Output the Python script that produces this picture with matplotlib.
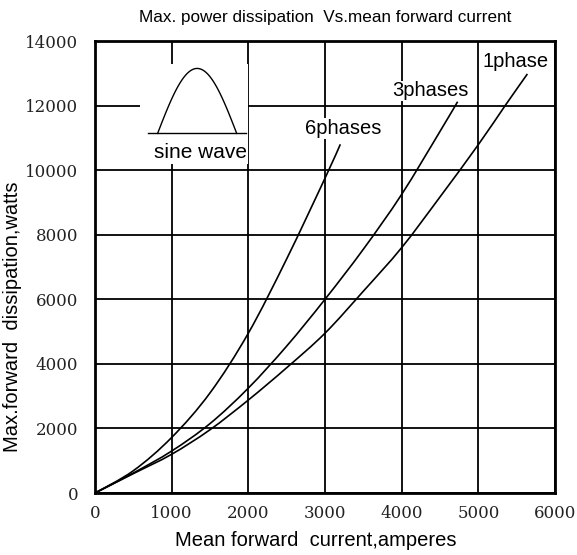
import matplotlib
matplotlib.use("Agg")
import matplotlib.pyplot as plt
import numpy as np
from matplotlib.patches import Rectangle, PathPatch
from matplotlib.path import Path

# ---- data ----
x_6ph = [0, 500, 1000, 1500, 2000, 2500, 3000, 3200]
y_6ph = [0, 690, 1720, 3100, 4950, 7250, 9750, 10800]

x_3ph = [0, 500, 1000, 1500, 2000, 2500, 3000, 3500, 4000, 4500, 4730]
y_3ph = [0, 620, 1300, 2150, 3250, 4550, 6000, 7550, 9250, 11200, 12120]

x_1ph = [0, 500, 1000, 1500, 2000, 2500, 3000, 3500, 4000, 4500, 5000, 5350, 5640]
y_1ph = [0, 600, 1200, 1960, 2880, 3880, 4950, 6250, 7600, 9170, 10790, 12000, 12980]

labels = ["6phases", "3phases", "1phase"]
label_x = [3235, 4370, 5490]
label_y = [11290, 12460, 13350]

x_ticks = [0, 1000, 2000, 3000, 4000, 5000, 6000]
y_ticks = [0, 2000, 4000, 6000, 8000, 10000, 12000, 14000]

title = "Max. power dissipation  Vs.mean forward current"
xlabel = "Mean forward  current,amperes"
ylabel = "Max.forward  dissipation,watts"


def smooth_path(xs, ys):
    """Catmull-Rom curve through the read points, as cubic Bezier segments."""
    p = np.column_stack([xs, ys]).astype(float)
    n = len(p)
    verts = [p[0]]
    codes = [Path.MOVETO]
    for i in range(n - 1):
        p0 = p[i - 1] if i > 0 else p[i]
        p1, p2 = p[i], p[i + 1]
        p3 = p[i + 2] if i + 2 < n else p[i + 1]
        c1 = p1 + (p2 - p0) / 6.0
        c2 = p2 - (p3 - p1) / 6.0
        verts += [c1, c2, p2]
        codes += [Path.CURVE4] * 3
    return Path(np.array(verts), codes)


fig = plt.figure(figsize=(5.77, 5.55), dpi=100)
ax = fig.add_axes([95/577, 62/555, 460/577, 452/555])

ax.set_xlim(0, 6000)
ax.set_ylim(0, 14000)
ax.set_xticks(x_ticks)
ax.set_yticks(y_ticks)
ax.grid(True, color="black", linewidth=1.3)
ax.set_axisbelow(True)
for s in ax.spines.values():
    s.set_linewidth(2.0)
    s.set_color("black")
ax.tick_params(length=0, pad=12, labelsize=12, labelcolor="#222222")
ax.tick_params(axis="x", pad=9)
for lab in ax.get_xticklabels() + ax.get_yticklabels():
    lab.set_family("DejaVu Serif")

for xs, ys in [(x_6ph, y_6ph), (x_3ph, y_3ph), (x_1ph, y_1ph)]:
    ax.add_patch(PathPatch(smooth_path(xs, ys), facecolor="none",
                           edgecolor="black", linewidth=1.2, zorder=3))

for t, lx, ly in zip(labels, label_x, label_y):
    ax.text(lx, ly, t, ha="center", va="center", fontsize=14.5,
            family="Liberation Sans", zorder=4,
            bbox=dict(facecolor="white", edgecolor="none", pad=0.5))

# inset: sine wave sketch
ax.add_patch(Rectangle((590, 10200), 1410, 3100, facecolor="white",
                       edgecolor="none", zorder=2))
base_y = 11140
ax.plot([696, 1970], [base_y, base_y], color="black", linewidth=1.0, zorder=3)
t = np.linspace(0, 1, 100)
ax.plot(817 + t * (1848 - 817), base_y + (13150 - base_y) * np.sin(np.pi * t),
        color="black", linewidth=1.0, zorder=3)
ax.text(1380, 10560, "sine wave", ha="center", va="center", fontsize=15,
        family="Liberation Sans", zorder=4)

ax.set_title(title, fontsize=12.3, family="Liberation Sans", pad=14)
ax.set_xlabel(xlabel, fontsize=14.5, family="Liberation Sans")
ax.set_ylabel(ylabel, fontsize=14.5, family="Liberation Sans")
ax.xaxis.set_label_coords(0.48, -0.085)
ax.yaxis.set_label_coords(-0.158, 0.39)

fig.savefig("out.png", dpi=100)
